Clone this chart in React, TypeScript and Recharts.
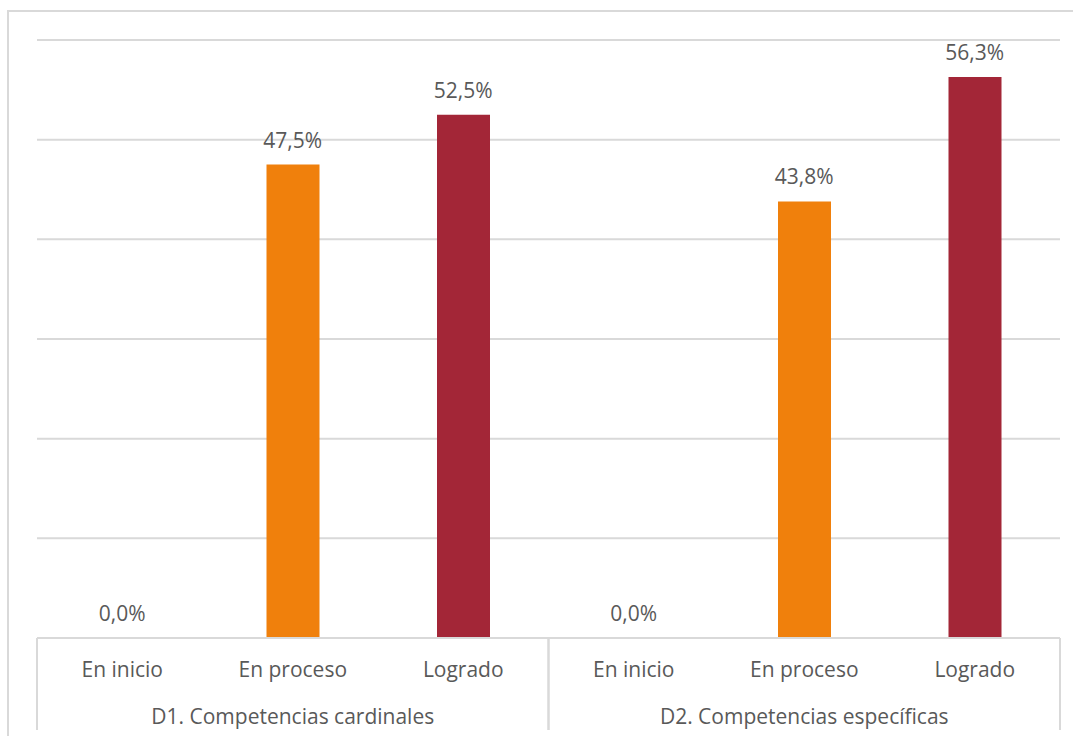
import { ComposedChart, Bar, Line, XAxis, YAxis, CartesianGrid, LabelList, Cell } from 'recharts';

const categories = ['En inicio', 'En proceso', 'Logrado', 'En inicio', 'En proceso', 'Logrado'];
const groups = ['D1. Competencias cardinales', 'D1. Competencias cardinales', 'D1. Competencias cardinales',
  'D2. Competencias específicas', 'D2. Competencias específicas', 'D2. Competencias específicas'];
const values = [0.0, 47.5, 52.5, 0.0, 43.8, 56.3];
const barColors = ['#F0800C', '#F0800C', '#A32637', '#F0800C', '#F0800C', '#A32637'];
const yTicks = [0, 10, 20, 30, 40, 50, 60];

const data = categories.map((name, i) => ({ key: `${i}`, name, group: groups[i], value: values[i] }));

const FONT = '"Open Sans", "Noto Sans", sans-serif';
const TEXT = '#595959';
const LINE = '#d9d9d9';

function MultiTick(props: any) {
  const { x, y, payload, index } = props;
  const half = payload?.offset ?? 85;
  const row = data[index];
  const lineLen = 92;
  return (
    <g>
      <text x={x} y={y + 39} textAnchor="middle" fill={TEXT} fontSize={21} fontFamily={FONT}>
        {row.name}
      </text>
      {index % 3 === 0 && <line x1={x - half} x2={x - half} y1={y} y2={y + lineLen} stroke={LINE} strokeWidth={2} />}
      {index % 3 === 2 && <line x1={x + half} x2={x + half} y1={y} y2={y + lineLen} stroke={LINE} strokeWidth={2} />}
      {index % 3 === 1 && (
        <text x={x} y={y + 86} textAnchor="middle" fill={TEXT} fontSize={21} fontFamily={FONT}>
          {row.group}
        </text>
      )}
    </g>
  );
}

export default function App() {
  return (
    <div style={{ position: 'absolute', left: 7, top: 10, width: 1066, height: 726, borderTop: `2px solid ${LINE}`, borderLeft: `2px solid ${LINE}`, boxSizing: 'border-box' }}>
      <div style={{ position: 'absolute', left: -2, top: -2 }}>
        <ComposedChart width={1066} height={726} data={data} margin={{ top: 30, right: 13, left: 30, bottom: 0 }} barCategoryGap={0}>
          <CartesianGrid horizontal vertical={false} stroke={LINE} strokeWidth={2} />
          <YAxis hide domain={[0, 60]} ticks={yTicks} />
          <XAxis
            dataKey="key"
            height={98}
            tickSize={0}
            tickMargin={0}
            tickLine={false}
            axisLine={{ stroke: LINE, strokeWidth: 2 }}
            interval={0}
            tick={<MultiTick />}
          />
          <Bar dataKey="value" barSize={53} isAnimationActive={false}>
            {data.map((d, i) => (
              <Cell key={d.key} fill={barColors[i]} />
            ))}
          </Bar>
          <Line dataKey="value" stroke="none" dot={false} activeDot={false} isAnimationActive={false}>
            <LabelList
              dataKey="value"
              position="top"
              offset={17}
              fill={TEXT}
              fontSize={21}
              fontFamily={FONT}
              formatter={(v: number) => `${v.toFixed(1).replace('.', ',')}%`}
            />
          </Line>
        </ComposedChart>
      </div>
    </div>
  );
}
